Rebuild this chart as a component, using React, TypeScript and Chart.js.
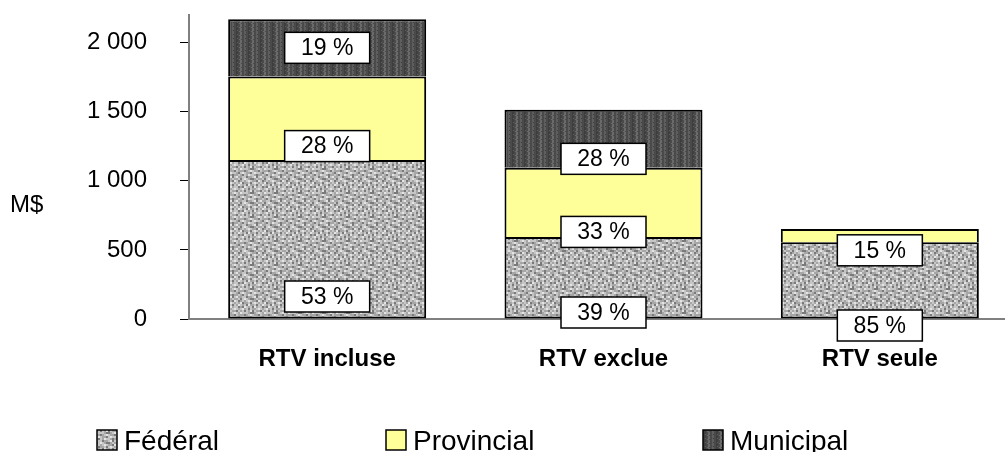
import React, { useEffect, useRef } from "react";
import { Chart, registerables } from "chart.js";

Chart.register(...registerables);

// ---- Data ----
const categories = ["RTV incluse", "RTV exclue", "RTV seule"];
const seriesNames = ["Fédéral", "Provincial", "Municipal"];
const federal: (number | null)[] = [1150, 594, 555];
const provincial: (number | null)[] = [605, 500, 97];
const municipal: (number | null)[] = [415, 420, null];
const yTicks = [0, 500, 1000, 1500, 2000];
const Y_MAX = 2200;
const yTitle = "M$";

// ---- Styling / layout constants ----
const FONT = "'Liberation Sans', Arial, Helvetica, sans-serif";
// label shift in px above the segment base (null = centred in segment)
const LABEL_SHIFT: (number | null)[][] = [
  [22, 6, -7],
  [14, 5, -8],
  [null, 9, null],
];
const LEGEND_X = [97, 386, 703];

function makePattern(rows: string[], colors: Record<string, string>, scale: number) {
  const c = document.createElement("canvas");
  c.width = rows[0].length * scale;
  c.height = rows.length * scale;
  const g = c.getContext("2d")!;
  rows.forEach((r, y) =>
    r.split("").forEach((ch, x) => {
      g.fillStyle = colors[ch];
      g.fillRect(x * scale, y * scale, scale, scale);
    })
  );
  return g.createPattern(c, "repeat")!;
}

function fmt(v: number) {
  return String(v).replace(/\B(?=(\d{3})+(?!\d))/g, " ");
}

export default function App() {
  const ref = useRef<HTMLCanvasElement | null>(null);

  useEffect(() => {
    if (!ref.current) return;
    const fedPattern = makePattern(
      [
        "wllladdalwla",
        "aadalwlaadla",
        "lwlaadlwllad",
        "adlawlladaal",
        "alldaalwdlwa",
        "dlwladdalaal",
        "alalwlaadwld",
        "wdaaldlwlala",
        "laldwaaldlaw",
        "adwlaldwalld",
        "lwaldlaalwla",
        "aldlawdlaadl",
      ],
      { w: "#e4e4e4", l: "#c6c6c6", a: "#a6a6a6", d: "#7a7a7a" },
      2
    );
    const munPattern = makePattern(
      ["aabbccbbddbb", "aabbccbbddbb", "aabbcdbbdcbb", "abbbccbbddba"],
      { a: "#6a6a6a", b: "#4a4a4a", c: "#5e5e5e", d: "#3e3e3e" },
      1
    );
    const colors = [fedPattern, "#FFFF99", munPattern];

    const labelPlugin = {
      id: "segLabels",
      afterDatasetsDraw(chart: any) {
        const ctx = chart.ctx;
        const totals = categories.map((_, j) =>
          chart.data.datasets.reduce((s: number, d: any) => s + (d.data[j] ?? 0), 0)
        );
        chart.data.datasets.forEach((ds: any, i: number) => {
          const meta = chart.getDatasetMeta(i);
          meta.data.forEach((el: any, j: number) => {
            const v = ds.data[j];
            if (v == null) return;
            const pct = Math.round((v / totals[j]) * 100);
            const shift = LABEL_SHIFT[i][j];
            const cy = shift == null ? (el.base + el.y) / 2 : el.base - shift;
            const w = 85,
              h = 31;
            ctx.save();
            ctx.fillStyle = "#ffffff";
            ctx.fillRect(el.x - w / 2, cy - h / 2, w, h);
            ctx.strokeStyle = "#000000";
            ctx.lineWidth = 1.5;
            ctx.strokeRect(el.x - w / 2, cy - h / 2, w, h);
            ctx.fillStyle = "#000000";
            ctx.font = `23px ${FONT}`;
            ctx.textAlign = "center";
            ctx.textBaseline = "middle";
            ctx.fillText(`${pct} %`, el.x, cy + 1);
            ctx.restore();
          });
        });
      },
    };

    const extrasPlugin = {
      id: "extras",
      afterDraw(chart: any) {
        const ctx = chart.ctx;
        ctx.save();
        // y-axis title
        ctx.fillStyle = "#000000";
        ctx.font = `24px ${FONT}`;
        ctx.textAlign = "left";
        ctx.textBaseline = "middle";
        ctx.fillText(yTitle, 10, 205);
        // legend
        ctx.font = `28px ${FONT}`;
        ctx.textBaseline = "alphabetic";
        seriesNames.forEach((name, i) => {
          const x = LEGEND_X[i];
          ctx.fillStyle = colors[i];
          ctx.fillRect(x, 430, 20, 20);
          ctx.strokeStyle = "#000000";
          ctx.lineWidth = 1.5;
          ctx.strokeRect(x, 430, 20, 20);
          ctx.fillStyle = "#000000";
          ctx.fillText(name, x + 27, 450);
        });
        ctx.restore();
      },
    };

    const chart = new Chart(ref.current, {
      type: "bar",
      data: {
        labels: categories,
        datasets: [
          {
            label: seriesNames[0],
            data: federal,
            backgroundColor: fedPattern,
            borderColor: "#000000",
            borderWidth: 2,
            borderSkipped: false,
          },
          {
            label: seriesNames[1],
            data: provincial,
            backgroundColor: "#FFFF99",
            borderColor: "#000000",
            borderWidth: 2,
          },
          {
            label: seriesNames[2],
            data: municipal,
            backgroundColor: munPattern,
            borderColor: "#000000",
            borderWidth: 2,
          },
        ] as any,
      },
      options: {
        responsive: false,
        animation: false,
        layout: { padding: { top: 15, bottom: 72, left: 0, right: 0 } },
        datasets: {
          bar: { categoryPercentage: 1, barPercentage: 0.7166 },
        },
        plugins: {
          legend: { display: false },
          tooltip: { enabled: false },
        },
        scales: {
          x: {
            stacked: true,
            grid: { display: false, drawTicks: false },
            border: { display: true, color: "#808080", width: 2 },
            ticks: {
              color: "#000000",
              padding: 26,
              font: { family: FONT, size: 24, weight: "bold" },
            },
            afterFit: (s: any) => {
              s.height = 61;
            },
          },
          y: {
            stacked: true,
            min: 0,
            max: Y_MAX,
            bounds: "data",
            afterBuildTicks: (s: any) => {
              s.ticks = yTicks.map((v) => ({ value: v }));
            },
            grid: {
              drawOnChartArea: false,
              drawTicks: true,
              tickLength: 9,
              tickColor: "#000000",
              tickWidth: 1,
            },
            border: { display: true, color: "#808080", width: 2 },
            ticks: {
              color: "#000000",
              padding: 33,
              font: { family: FONT, size: 24 },
              callback: (v: any) => fmt(Number(v)),
            },
            afterFit: (s: any) => {
              s.width = 189;
              s.paddingTop = 0;
              s.paddingBottom = 0;
            },
          },
        },
      } as any,
      plugins: [labelPlugin, extrasPlugin],
    });
    return () => chart.destroy();
  }, []);

  return (
    <div
      style={{
        position: "fixed",
        left: 0,
        top: 0,
        width: 1005,
        height: 452,
        overflow: "hidden",
        background: "#ffffff",
      }}
    >
      <canvas ref={ref} width={1018} height={452} style={{ display: "block" }} />
    </div>
  );
}
